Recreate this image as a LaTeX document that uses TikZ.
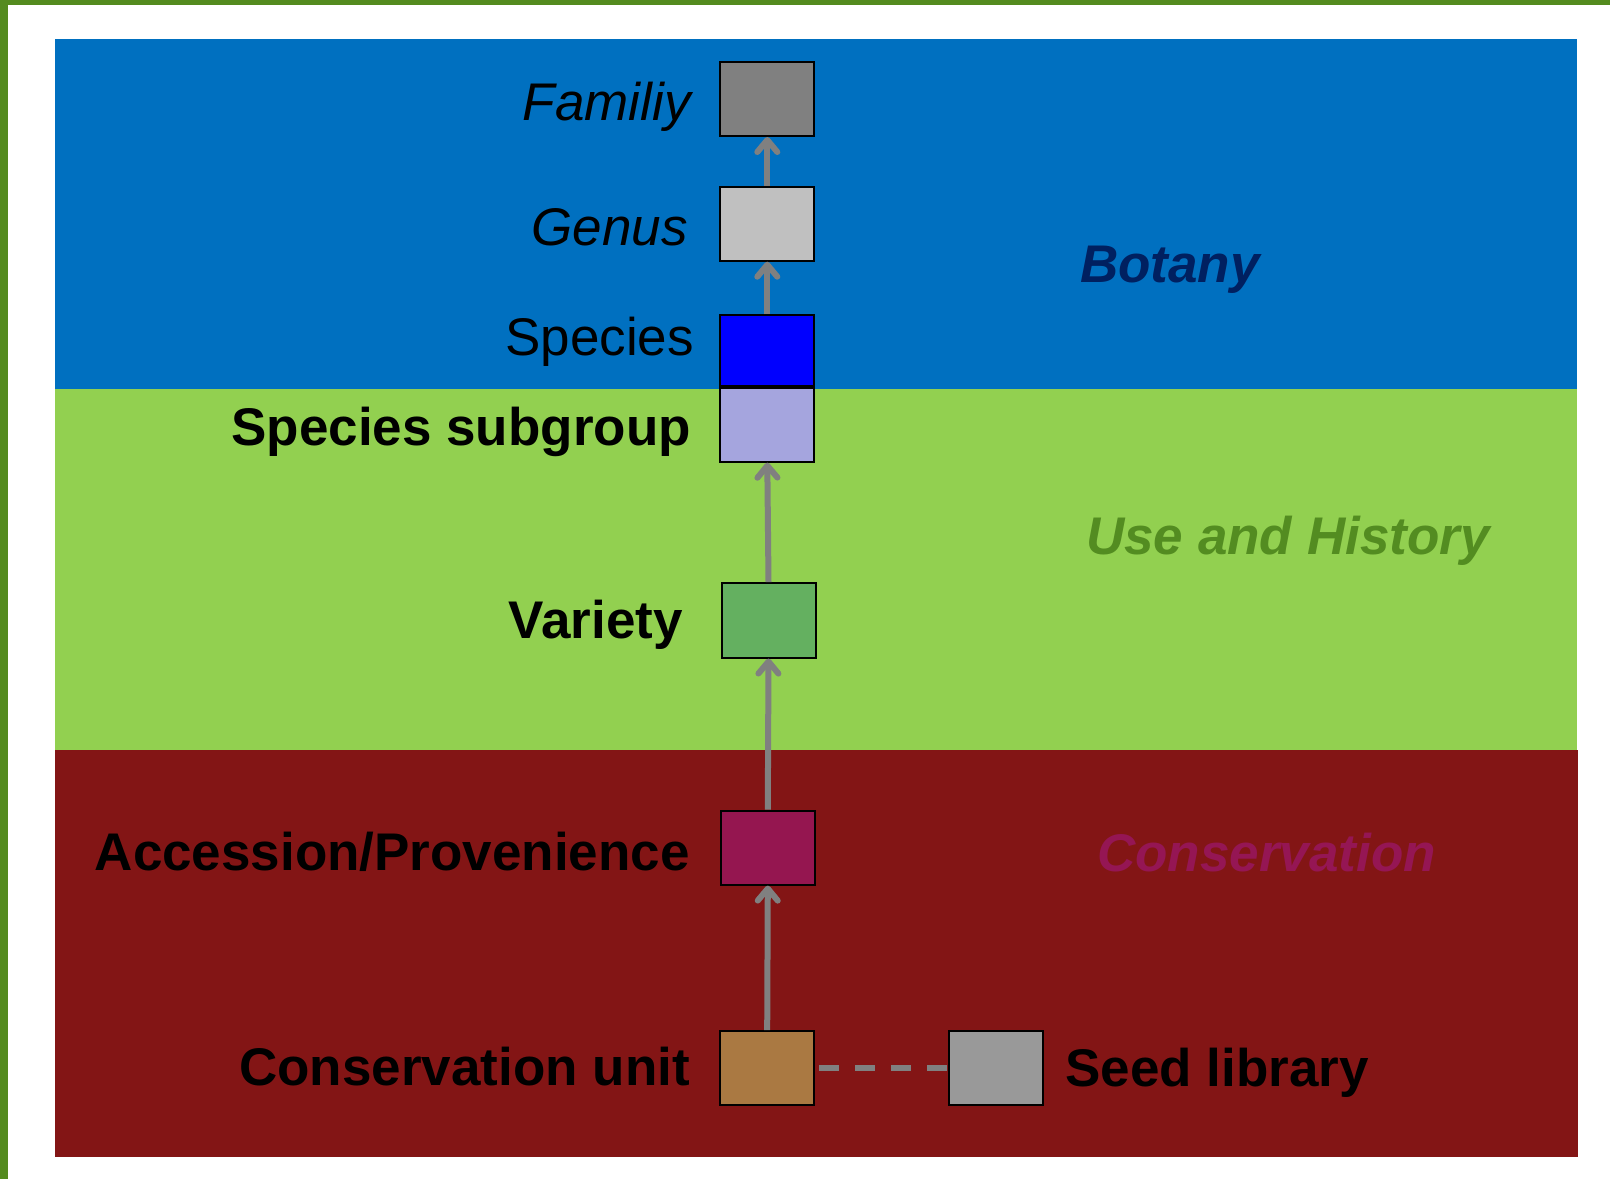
\documentclass[tikz,border=0pt]{standalone}
\usepackage{fontspec}
\setmainfont{Liberation Sans}
\usetikzlibrary{arrows.meta}
\definecolor{framegreen}{RGB}{84,139,31}
\definecolor{bandblue}{RGB}{0,112,192}
\definecolor{bandgreen}{RGB}{146,208,80}
\definecolor{bandred}{RGB}{131,21,21}
\definecolor{navy}{RGB}{0,32,96}
\definecolor{usegreen}{RGB}{83,140,33}
\definecolor{consmag}{RGB}{149,22,84}
\definecolor{cfam}{RGB}{128,128,128}
\definecolor{cgen}{RGB}{192,192,192}
\definecolor{cspe}{RGB}{0,0,255}
\definecolor{csub}{RGB}{165,165,222}
\definecolor{cvar}{RGB}{100,176,96}
\definecolor{cacc}{RGB}{149,22,80}
\definecolor{ccu}{RGB}{170,121,66}
\definecolor{cseed}{RGB}{153,153,153}
\definecolor{arrgray}{RGB}{128,128,128}
\tikzset{
  taxbox/.style={draw=black, line width=2pt, inner sep=0pt, minimum width=94pt},
  lab/.style={inner sep=0pt, font=\fontsize{53}{64}\selectfont},
  link/.style={draw=arrgray, line width=6pt,
    -{Straight Barb[length=12pt,width=20pt,line cap=round,line join=round]}},
  dashlink/.style={draw=arrgray, line width=6pt, dash pattern=on 20pt off 16pt}
}
\begin{document}
\begin{tikzpicture}[x=1pt,y=-1pt]
\useasboundingbox (0,0) rectangle (1610,1179);
\fill[white] (0,0) rectangle (1610,1179);
% frame
\fill[framegreen] (0,0) rectangle (1610,5);
\fill[framegreen] (0,0) rectangle (8,1179);
% bands
\fill[bandblue] (55,39) rectangle (1577,389);
\fill[bandgreen] (55,389) rectangle (1577,750);
\fill[bandred] (55,750) rectangle (1578,1157);
% boxes
\node[taxbox, fill=cfam, minimum height=74pt] (fam) at (767.3,99) {};
\node[taxbox, fill=cgen, minimum height=74pt] (gen) at (767.3,223.7) {};
\node[taxbox, fill=cspe, minimum height=71.3pt] (spe) at (767.3,350.7) {};
\node[taxbox, fill=csub, minimum height=73.3pt] (sub) at (767.3,425) {};
\node[taxbox, fill=cvar, minimum height=74.5pt] (var) at (768.5,620.3) {};
\node[taxbox, fill=cacc, minimum height=74pt] (acc) at (767.8,847.6) {};
\node[taxbox, fill=ccu, minimum height=73.7pt] (cu) at (767.2,1068) {};
\node[taxbox, fill=cseed, minimum height=73.4pt] (seed) at (996.3,1068) {};
% connectors
\draw[link] (gen.north) -- (fam.south);
\draw[link] (spe.north) -- (gen.south);
\draw[link] (var.north) -- (sub.south);
\draw[link] (acc.north) -- (var.south);
\draw[link] (cu.north) -- (acc.south);
\draw[dashlink, shorten <=4pt] (cu.east) -- (seed.west);
% labels
\node[lab, anchor=base east] (lfam) at (691,120) {\itshape Familiy};
\node[lab, anchor=base east] (lgen) at (688,245) {\itshape Genus};
\node[lab, anchor=base east] (lspe) at (694,355) {Species};
\node[lab, anchor=base east] (lsub) at (691,445) {\bfseries Species subgroup};
\node[lab, anchor=base east] (lvar) at (683,638.3) {\bfseries Variety};
\node[lab, anchor=base east] (lacc) at (690,870) {\bfseries Accession/Provenience};
\node[lab, anchor=base east] (lcu) at (690,1085.7) {\bfseries Conservation unit};
\node[lab, anchor=base west] (lseed) at (1065,1086.7) {\bfseries Seed library};
\node[lab, anchor=base west, text=navy] (lbot) at (1080,282.3) {\bfseries\itshape Botany};
\node[lab, anchor=base west, text=usegreen] (luse) at (1086,554.3) {\bfseries\itshape Use and History};
\node[lab, anchor=base west, text=consmag] (lcons) at (1097,871.7) {\bfseries\itshape Conservation};
\end{tikzpicture}
\end{document}
